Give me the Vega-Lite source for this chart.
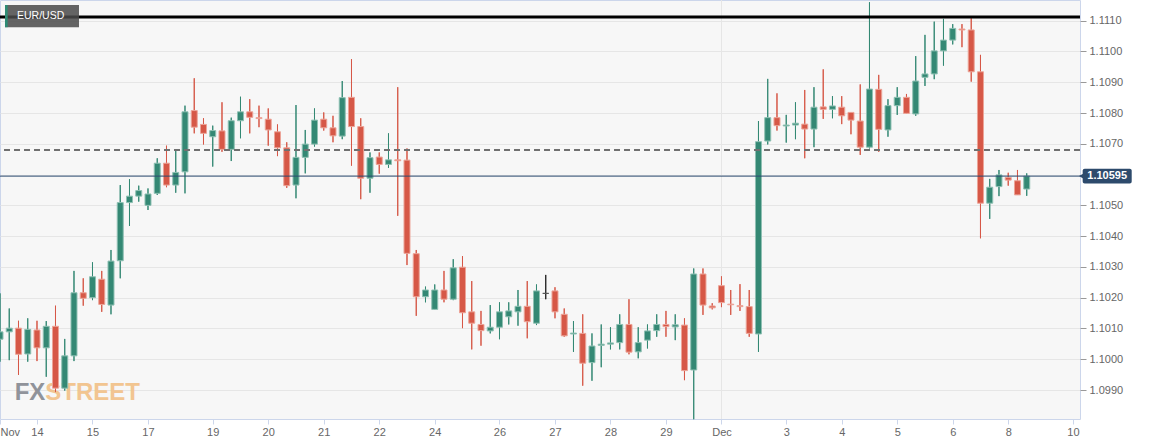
{
  "$schema": "https://vega.github.io/schema/vega-lite/v6.json",
  "width": 1080,
  "height": 419,
  "autosize": {"type": "none"},
  "padding": {"left": 0, "top": 0, "right": 70, "bottom": 26},
  "background": "white",
  "config": {
    "view": {"fill": "#f7f7f7", "stroke": "#ccd6eb", "strokeWidth": 1},
    "font": "Liberation Sans",
    "scale": {"continuousPadding": 0},
    "axis": {"labelFont": "Liberation Sans", "titleFont": "Liberation Sans", "labelOverlap": false, "labelFlush": false, "labelBound": false}
  },
  "datasets": {
    "candles": [
      {"idx":0,"open":1.10065,"high":1.10214,"low":1.09992,"close":1.10089},
      {"idx":1,"open":1.10089,"high":1.10165,"low":1.09997,"close":1.10101},
      {"idx":2,"open":1.10101,"high":1.10125,"low":1.09949,"close":1.10016},
      {"idx":3,"open":1.10017,"high":1.10133,"low":1.09992,"close":1.10097},
      {"idx":4,"open":1.10095,"high":1.10125,"low":1.09994,"close":1.10037},
      {"idx":5,"open":1.10037,"high":1.10124,"low":1.09943,"close":1.10107},
      {"idx":6,"open":1.10107,"high":1.10174,"low":1.09893,"close":1.09906},
      {"idx":7,"open":1.09906,"high":1.10066,"low":1.09898,"close":1.10011},
      {"idx":8,"open":1.10011,"high":1.10287,"low":1.09994,"close":1.10216},
      {"idx":9,"open":1.10216,"high":1.10263,"low":1.10174,"close":1.10198},
      {"idx":10,"open":1.10200,"high":1.10315,"low":1.10192,"close":1.10268},
      {"idx":11,"open":1.10260,"high":1.10287,"low":1.10154,"close":1.10178},
      {"idx":12,"open":1.10176,"high":1.10355,"low":1.10146,"close":1.10319},
      {"idx":13,"open":1.10320,"high":1.10566,"low":1.10263,"close":1.10509},
      {"idx":14,"open":1.10509,"high":1.10585,"low":1.10433,"close":1.10530},
      {"idx":15,"open":1.10530,"high":1.10564,"low":1.10512,"close":1.10548},
      {"idx":16,"open":1.10500,"high":1.10555,"low":1.10485,"close":1.10537},
      {"idx":17,"open":1.10539,"high":1.10653,"low":1.10534,"close":1.10637},
      {"idx":18,"open":1.10637,"high":1.10694,"low":1.10559,"close":1.10566},
      {"idx":19,"open":1.10566,"high":1.10683,"low":1.10541,"close":1.10607},
      {"idx":20,"open":1.10609,"high":1.10824,"low":1.10539,"close":1.10804},
      {"idx":21,"open":1.10808,"high":1.10913,"low":1.10734,"close":1.10754},
      {"idx":22,"open":1.10763,"high":1.10783,"low":1.10698,"close":1.10734},
      {"idx":23,"open":1.10723,"high":1.10759,"low":1.10626,"close":1.10743},
      {"idx":24,"open":1.10742,"high":1.10835,"low":1.10674,"close":1.10682},
      {"idx":25,"open":1.10682,"high":1.10785,"low":1.10644,"close":1.10775},
      {"idx":26,"open":1.10775,"high":1.10853,"low":1.10718,"close":1.10804},
      {"idx":27,"open":1.10804,"high":1.10845,"low":1.10734,"close":1.10786},
      {"idx":28,"open":1.10785,"high":1.10824,"low":1.10754,"close":1.10782},
      {"idx":29,"open":1.10780,"high":1.10815,"low":1.10694,"close":1.10745},
      {"idx":30,"open":1.10739,"high":1.10763,"low":1.10660,"close":1.10687},
      {"idx":31,"open":1.10687,"high":1.10705,"low":1.10557,"close":1.10564},
      {"idx":32,"open":1.10566,"high":1.10826,"low":1.10523,"close":1.10656},
      {"idx":33,"open":1.10656,"high":1.10745,"low":1.10604,"close":1.10699},
      {"idx":34,"open":1.10699,"high":1.10815,"low":1.10691,"close":1.10777},
      {"idx":35,"open":1.10780,"high":1.10802,"low":1.10743,"close":1.10752},
      {"idx":36,"open":1.10752,"high":1.10791,"low":1.10705,"close":1.10726},
      {"idx":37,"open":1.10725,"high":1.10904,"low":1.10715,"close":1.10850},
      {"idx":38,"open":1.10851,"high":1.10975,"low":1.10629,"close":1.10756},
      {"idx":39,"open":1.10756,"high":1.10783,"low":1.10520,"close":1.10588},
      {"idx":40,"open":1.10588,"high":1.10672,"low":1.10541,"close":1.10655},
      {"idx":41,"open":1.10657,"high":1.10672,"low":1.10603,"close":1.10633},
      {"idx":42,"open":1.10633,"high":1.10734,"low":1.10622,"close":1.10648},
      {"idx":43,"open":1.10648,"high":1.10884,"low":1.10466,"close":1.10645},
      {"idx":44,"open":1.10647,"high":1.10685,"low":1.10306,"close":1.10344},
      {"idx":45,"open":1.10343,"high":1.10355,"low":1.10141,"close":1.10203},
      {"idx":46,"open":1.10203,"high":1.10236,"low":1.10185,"close":1.10225},
      {"idx":47,"open":1.10162,"high":1.10243,"low":1.10162,"close":1.10225},
      {"idx":48,"open":1.10225,"high":1.10287,"low":1.10185,"close":1.10195},
      {"idx":49,"open":1.10195,"high":1.10325,"low":1.10192,"close":1.10297},
      {"idx":50,"open":1.10299,"high":1.10335,"low":1.10101,"close":1.10151},
      {"idx":51,"open":1.10154,"high":1.10254,"low":1.10032,"close":1.10117},
      {"idx":52,"open":1.10113,"high":1.10157,"low":1.10044,"close":1.10093},
      {"idx":53,"open":1.10092,"high":1.10176,"low":1.10084,"close":1.10104},
      {"idx":54,"open":1.10104,"high":1.10185,"low":1.10065,"close":1.10154},
      {"idx":55,"open":1.10138,"high":1.10185,"low":1.10113,"close":1.10157},
      {"idx":56,"open":1.10154,"high":1.10225,"low":1.10109,"close":1.10172},
      {"idx":57,"open":1.10172,"high":1.10254,"low":1.10068,"close":1.10122},
      {"idx":58,"open":1.10117,"high":1.10243,"low":1.10111,"close":1.10222},
      {"idx":59,"open":1.10214,"high":1.10274,"low":1.10195,"close":1.10214},
      {"idx":60,"open":1.10222,"high":1.10234,"low":1.10133,"close":1.10154},
      {"idx":61,"open":1.10146,"high":1.10165,"low":1.10073,"close":1.10076},
      {"idx":62,"open":1.10082,"high":1.10124,"low":1.10024,"close":1.10085},
      {"idx":63,"open":1.10084,"high":1.10146,"low":1.09914,"close":1.09987},
      {"idx":64,"open":1.09989,"high":1.10084,"low":1.09930,"close":1.10043},
      {"idx":65,"open":1.10045,"high":1.10113,"low":1.09974,"close":1.10049},
      {"idx":66,"open":1.10049,"high":1.10104,"low":1.10032,"close":1.10053},
      {"idx":67,"open":1.10054,"high":1.10146,"low":1.10032,"close":1.10113},
      {"idx":68,"open":1.10113,"high":1.10195,"low":1.10016,"close":1.10023},
      {"idx":69,"open":1.10024,"high":1.10104,"low":1.10003,"close":1.10054},
      {"idx":70,"open":1.10062,"high":1.10113,"low":1.10035,"close":1.10092},
      {"idx":71,"open":1.10093,"high":1.10146,"low":1.10073,"close":1.10113},
      {"idx":72,"open":1.10113,"high":1.10157,"low":1.10073,"close":1.10106},
      {"idx":73,"open":1.10105,"high":1.10146,"low":1.10062,"close":1.10112},
      {"idx":74,"open":1.10111,"high":1.10133,"low":1.09932,"close":1.09963},
      {"idx":75,"open":1.09965,"high":1.10295,"low":1.09805,"close":1.10277},
      {"idx":76,"open":1.10277,"high":1.10295,"low":1.10144,"close":1.10176},
      {"idx":77,"open":1.10173,"high":1.10182,"low":1.10162,"close":1.10167},
      {"idx":78,"open":1.10239,"high":1.10270,"low":1.10169,"close":1.10184},
      {"idx":79,"open":1.10179,"high":1.10225,"low":1.10144,"close":1.10177},
      {"idx":80,"open":1.10174,"high":1.10244,"low":1.10157,"close":1.10171},
      {"idx":81,"open":1.10171,"high":1.10225,"low":1.10073,"close":1.10084},
      {"idx":82,"open":1.10082,"high":1.10774,"low":1.10024,"close":1.10707},
      {"idx":83,"open":1.10709,"high":1.10911,"low":1.10698,"close":1.10785},
      {"idx":84,"open":1.10785,"high":1.10864,"low":1.10743,"close":1.10759},
      {"idx":85,"open":1.10758,"high":1.10794,"low":1.10704,"close":1.10761},
      {"idx":86,"open":1.10761,"high":1.10835,"low":1.10715,"close":1.10767},
      {"idx":87,"open":1.10764,"high":1.10875,"low":1.10653,"close":1.10748},
      {"idx":88,"open":1.10748,"high":1.10884,"low":1.10689,"close":1.10819},
      {"idx":89,"open":1.10820,"high":1.10942,"low":1.10781,"close":1.10812},
      {"idx":90,"open":1.10812,"high":1.10855,"low":1.10783,"close":1.10823},
      {"idx":91,"open":1.10819,"high":1.10855,"low":1.10764,"close":1.10791},
      {"idx":92,"open":1.10802,"high":1.10802,"low":1.10731,"close":1.10777},
      {"idx":93,"open":1.10774,"high":1.10893,"low":1.10664,"close":1.10689},
      {"idx":94,"open":1.10689,"high":1.11160,"low":1.10685,"close":1.10878},
      {"idx":95,"open":1.10877,"high":1.10924,"low":1.10674,"close":1.10747},
      {"idx":96,"open":1.10745,"high":1.10845,"low":1.10723,"close":1.10824},
      {"idx":97,"open":1.10824,"high":1.10884,"low":1.10794,"close":1.10851},
      {"idx":98,"open":1.10851,"high":1.10862,"low":1.10799,"close":1.10799},
      {"idx":99,"open":1.10797,"high":1.10985,"low":1.10791,"close":1.10904},
      {"idx":100,"open":1.10916,"high":1.11054,"low":1.10888,"close":1.10927},
      {"idx":101,"open":1.10927,"high":1.11097,"low":1.10910,"close":1.11002},
      {"idx":102,"open":1.11002,"high":1.11106,"low":1.10954,"close":1.11037},
      {"idx":103,"open":1.11037,"high":1.11089,"low":1.11023,"close":1.11075},
      {"idx":104,"open":1.11073,"high":1.11089,"low":1.11014,"close":1.11070},
      {"idx":105,"open":1.11070,"high":1.11108,"low":1.10902,"close":1.10934},
      {"idx":106,"open":1.10934,"high":1.10989,"low":1.10393,"close":1.10507},
      {"idx":107,"open":1.10507,"high":1.10586,"low":1.10456,"close":1.10559},
      {"idx":108,"open":1.10561,"high":1.10615,"low":1.10530,"close":1.10599},
      {"idx":109,"open":1.10591,"high":1.10606,"low":1.10564,"close":1.10582},
      {"idx":110,"open":1.10580,"high":1.10615,"low":1.10534,"close":1.10534},
      {"idx":111,"open":1.10553,"high":1.10604,"low":1.10531,"close":1.10595}
    ]
  },
  "layer": [
    {
      "data": {"name": "candles"},
      "mark": {"type": "rule", "strokeWidth": 1},
      "encoding": {
        "x": {
          "field": "idx", "type": "quantitative",
          "scale": {"domain": [0, 116.76], "nice": false, "zero": false, "padding": 0},
          "axis": {
            "title": null, "grid": false, "domain": false, "tickCount": 40,
            "values": [0,4,10,16,23,29,35,41,47,54,60,66,72,78,85,91,97,103,109,116],
            "labelExpr": "['Nov','14','15','17','19','20','21','22','24','26','27','28','29','Dec','3','4','5','6','8','10'][indexof([0,4,10,16,23,29,35,41,47,54,60,66,72,78,85,91,97,103,109,116], datum.value)]",
            "labelAlign": {"condition": {"test": "datum.value == 0", "value": "left"}, "value": "center"},
            "labelOverlap": false, "labelFlush": false, "labelBound": false,
            "tickColor": "#ccd6eb", "tickSize": 5, "labelPadding": 2,
            "labelColor": "#666666", "labelFontSize": 11
          }
        },
        "y": {
          "field": "low", "type": "quantitative",
          "scale": {"domain": [1.098058, 1.111673], "nice": false, "zero": false, "padding": 0},
          "axis": {
            "orient": "right", "title": null, "domain": false, "tickCount": 30,
            "values": [1.099,1.100,1.101,1.102,1.103,1.104,1.105,1.106,1.107,1.108,1.109,1.110,1.111],
            "labelExpr": "abs(datum.value - 1.106) < 0.00001 ? '' : format(datum.value, '.4f')",
            "grid": true, "gridColor": "#e6e6e6", "gridWidth": 1,
            "labelOverlap": false, "labelFlush": false, "labelBound": false,
            "tickColor": "#999999", "tickSize": 6, "labelPadding": 3,
            "labelColor": "#666666", "labelFontSize": 11
          }
        },
        "y2": {"field": "high"},
        "color": {
          "condition": [
            {"test": "datum.close > datum.open", "value": "#348874"},
            {"test": "datum.close < datum.open", "value": "#d65847"}
          ],
          "value": "#222222"
        }
      }
    },
    {
      "data": {"values": [{}]},
      "mark": {"type": "text", "align": "right", "baseline": "alphabetic", "fontSize": 24, "fontWeight": "bold", "color": "#8b8e96", "opacity": 0.95},
      "encoding": {
        "x": {"datum": 4.9, "type": "quantitative"},
        "y": {"datum": 1.098675, "type": "quantitative"},
        "text": {"value": "FX"}
      }
    },
    {
      "data": {"values": [{}]},
      "mark": {"type": "text", "align": "left", "baseline": "alphabetic", "fontSize": 24, "fontWeight": "bold", "color": "#f2c38c", "opacity": 0.95},
      "encoding": {
        "x": {"datum": 4.9, "type": "quantitative"},
        "y": {"datum": 1.098675, "type": "quantitative"},
        "text": {"value": "STREET"}
      }
    },
    {
      "data": {"values": [{}]},
      "mark": {"type": "rule", "color": "#e6e6e6", "strokeWidth": 1},
      "encoding": {
        "x": {"datum": 78, "type": "quantitative"}
      }
    },
    {
      "data": {"name": "candles"},
      "mark": {"type": "rule", "strokeWidth": 1},
      "encoding": {
        "x": {"field": "idx", "type": "quantitative"},
        "y": {"field": "low", "type": "quantitative"},
        "y2": {"field": "high"},
        "color": {
          "condition": [
            {"test": "datum.close > datum.open", "value": "#348874"},
            {"test": "datum.close < datum.open", "value": "#d65847"}
          ],
          "value": "#222222"
        }
      }
    },
    {
      "data": {"name": "candles"},
      "mark": {"type": "bar", "width": 6, "strokeWidth": 1},
      "encoding": {
        "x": {"field": "idx", "type": "quantitative"},
        "y": {"field": "open", "type": "quantitative"},
        "y2": {"field": "close"},
        "fill": {
          "condition": [
            {"test": "datum.close > datum.open", "value": "#348874"},
            {"test": "datum.close < datum.open", "value": "#d65847"}
          ],
          "value": "#333333"
        },
        "stroke": {
          "condition": [
            {"test": "datum.close > datum.open", "value": "#8fc0b3"},
            {"test": "datum.close < datum.open", "value": "#eca498"}
          ],
          "value": "#555555"
        }
      }
    },
    {
      "data": {"values": [{}]},
      "mark": {"type": "rule", "color": "#000000", "strokeWidth": 3},
      "encoding": {
        "y": {"datum": 1.11112, "type": "quantitative"}
      }
    },
    {
      "data": {"values": [{}]},
      "mark": {"type": "rule", "color": "#707070", "strokeWidth": 2, "strokeDash": [6, 4]},
      "encoding": {
        "y": {"datum": 1.1068, "type": "quantitative"}
      }
    },
    {
      "data": {"values": [{}]},
      "mark": {"type": "rule", "color": "#2b4a6f", "strokeWidth": 1},
      "encoding": {
        "x": {"datum": 0, "type": "quantitative"},
        "x2": {"datum": 117.1},
        "y": {"datum": 1.10595, "type": "quantitative"}
      }
    },
    {
      "data": {"values": [{}]},
      "mark": {"type": "rect", "color": "#4a4a4a", "opacity": 0.85},
      "encoding": {
        "x": {"datum": 0.54, "type": "quantitative"},
        "x2": {"datum": 8.54},
        "y": {"datum": 1.11151, "type": "quantitative"},
        "y2": {"datum": 1.11079}
      }
    },
    {
      "data": {"values": [{}]},
      "mark": {"type": "rect", "color": "#2e8b74"},
      "encoding": {
        "x": {"datum": 0.54, "type": "quantitative"},
        "x2": {"datum": 0.83},
        "y": {"datum": 1.11151, "type": "quantitative"},
        "y2": {"datum": 1.11079}
      }
    },
    {
      "data": {"values": [{}]},
      "mark": {"type": "text", "align": "left", "baseline": "middle", "fontSize": 10.5, "color": "#ffffff"},
      "encoding": {
        "x": {"datum": 1.84, "type": "quantitative"},
        "y": {"datum": 1.111153, "type": "quantitative"},
        "text": {"value": "EUR/USD"}
      }
    },
    {
      "data": {"values": [{}]},
      "mark": {"type": "rect", "color": "#2d4a6c", "cornerRadius": 2},
      "encoding": {
        "x": {"datum": 117.05, "type": "quantitative"},
        "x2": {"datum": 122.35},
        "y": {"datum": 1.10619, "type": "quantitative"},
        "y2": {"datum": 1.10571}
      }
    },
    {
      "data": {"values": [{}]},
      "mark": {"type": "point", "shape": "triangle-left", "filled": true, "color": "#2d4a6c", "size": 40, "opacity": 1},
      "encoding": {
        "x": {"datum": 116.95, "type": "quantitative"},
        "y": {"datum": 1.10595, "type": "quantitative"}
      }
    },
    {
      "data": {"values": [{}]},
      "mark": {"type": "text", "align": "center", "baseline": "middle", "fontSize": 11, "fontWeight": "bold", "color": "#ffffff"},
      "encoding": {
        "x": {"datum": 119.7, "type": "quantitative"},
        "y": {"datum": 1.10595, "type": "quantitative"},
        "text": {"value": "1.10595"}
      }
    }
  ]
}
